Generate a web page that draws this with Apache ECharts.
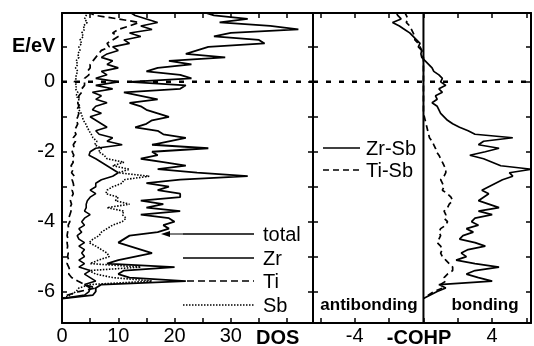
<!DOCTYPE html>
<html><head><meta charset="utf-8">
<script src="https://cdn.jsdelivr.net/npm/echarts@6/dist/echarts.min.js"></script>
<style>html,body{margin:0;padding:0;background:#fff}#c{width:534px;height:346px}</style>
</head><body><div id="c"></div>
<script>
// Energy grid (eV)
const energy = [2.0,1.9,1.8,1.7,1.6,1.5,1.4,1.3,1.2,1.1,1.0, 0.9,0.8,0.7,0.6,0.5,0.4,0.3,0.2,0.1,0.0,
 -0.1,-0.2,-0.3,-0.4,-0.5,-0.6,-0.7,-0.8,-0.9,-1.0, -1.1,-1.2,-1.3,-1.4,-1.5,-1.6,-1.7,-1.8,-1.9,-2.0,
 -2.1,-2.2,-2.3,-2.4,-2.5,-2.6,-2.7,-2.8,-2.9,-3.0, -3.1,-3.2,-3.3,-3.4,-3.5,-3.6,-3.7,-3.8,-3.9,-4.0,
 -4.1,-4.2,-4.3,-4.4,-4.5,-4.6,-4.7,-4.8,-4.9,-5.0, -5.1,-5.2,-5.3,-5.4,-5.5,-5.6,-5.7,-5.8,-5.9,-6.0,
 -6.1,-6.2];
// DOS curves
const dosTotal = [25,27,33,28,37,42,30,27,35,36,26, 24,22,29,19,23,17,15,21,23,12,
 22,21,11,14,17,12,14,15,17,19, 16,15,13,17,18,22,19,16,26,16,
 17,14,18,22,17,24,33,21,15,19, 17,21,21,14,18,15,21,14,19,20,
 18,19,17,12,11,10,12,14,16,13, 10,8,20,11,10,12,22,7,6,6,
 5.5,0];
const dosZr = [12,13,15,17,14,16,12,14,11,12,9, 10,8,7,9,8,10,7,8,6,10,
 6,9,5.4,7,6,8,6,5.4,7,5, 6,7,8,6,6.6,9,8,10.7,6,5,
 4.8,6,7,8,9,10,9,7,6,6, 5,6,5,4.5,4.3,4.3,4,5,4,3.5,
 4,3,3.5,2.7,3,4,3,4,3.5,4, 3,4,3,5,4,5,6,4,5,4.8,
 4,0];
const dosTi = [4.5,6,10,13.7,12,10,9,10,9,8,8.4, 7,6.5,6,5.5,5,5,4.5,4.8,4,4,
 4,3.5,3.5,3,3,2.8,3,2.6,3,2.8, 2.5,2.8,2.5,2.2,2.5,2,2.4,2,2.2,1.8,
 2.1,1.8,2,1.6,2,1.7,2.2,1.8,2,2.1, 1.8,2,1.7,1.5,1.7,1.4,1.6,1.4,1.2,1.4,
 1.1,1.2,1,0.9,1.1,0.9,1,0.9,1.1,1, 1.2,0.9,1.2,1.4,1.2,1.7,2.8,4,6,3,
 1,0];
const dosSb = [4.5,4.3,4,4.5,3.8,4,3.5,3.8,3.2,3.5,3, 3.2,2.8,3,2.5,2.8,2.4,2.8,2.5,2.5,2.2,
 2.6,2.4,2.8,2.5,3,2.8,3.2,3,3.4,3.6, 3.8,4.2,4.5,4.8,5.2,5.5,6.2,5.8,7,6.5,
 7.5,8,11,9,12,10,15.5,11,10.7,9, 8,7.8,10,9.5,12,8,11,10.7,11.4,10.7,
 9,8,7,6.6,5.5,4.8,6,7,8,8.4, 6.5,5,14,4.8,6,9,16,5,3,2.5,
 1.5,0];
// -COHP curves
const cohpZrSb = [-1.6,-1.5,-1.3,-1.8,-1.4,-1.1,-0.8,-0.6,-0.4,-0.2,-0.3, -0.1,-0.15,-0.1,0.1,0.3,0.5,0.6,0.9,1.1,1.0,
 1.3,0.9,1.1,0.7,0.8,0.5,0.8,0.9,1.0,1.2, 1.4,1.7,2.1,2.6,3.0,5.2,3.5,3.2,4.4,3.6,
 2.7,3.5,4.0,4.5,6.3,5.0,5.2,4.6,4.2,3.8, 3.4,3.8,3.5,3.2,3.8,4.4,3.2,4.0,3.0,2.8,
 3.2,2.5,2.9,2.3,2.1,3.0,3.6,2.6,2.2,2.5, 1.9,3.0,4.4,3.0,2.5,3.2,4.0,0.9,1.3,0.8,
 0.4,0];
const cohpTiSb = [-1.1,-1.0,-0.9,-1.0,-0.8,-0.7,-0.6,-0.5,-0.5,-0.3,-0.2, -0.1,-0.1,0,0,0,0,0,0,0,0,
 0,0,0,0,0,0,0,0,0,0.05, 0.1,0.15,0.2,0.25,0.3,0.35,0.5,0.6,0.7,0.75,
 0.9,1.0,1.1,1.2,1.3,1.3,1.2,1.0,1.1,1.2, 1.1,1.4,1.6,1.7,1.5,1.4,1.2,1.3,1.2,1.4,
 1.3,1.0,0.9,1.0,0.9,0.8,1.0,1.1,1.0,1.1, 1.3,1.5,1.7,1.7,1.4,1.2,1.3,1.0,1.1,0.6,
 0.3,0];
const dosTickLabels = [0,10,20,30];
const cohpTickLabels = [-4,4];
const energyTickLabels = [0,-2,-4,-6];
const fermiEnergy = 0;

const FONT = 'Liberation Sans, Arial, sans-serif';
const pair = arr => arr.map((v,i)=>[v, energy[i]]);
const axLine = {show:true, onZero:false, lineStyle:{color:'#000', width:2}};
const tick = {show:true, inside:true, length:5, lineStyle:{color:'#000', width:1.5}};
const near = (v, list) => list.some(t => Math.abs(v - t) < 1e-6);

const DOS_MAX = 44.6, E_MIN = -6.9, E_MAX = 1.97, C_MIN = -6.43, C_MAX = 6.26;

function xAx(grid, pos, min, max, extra, labels){
  return Object.assign({type:'value', gridIndex:grid, position:pos, min, max,
    axisLine:axLine, axisTick:tick, splitLine:{show:false},
    axisLabel: labels ? {show:true, color:'#000', fontSize:20, fontFamily:FONT, margin:3,
      formatter: v => near(v, labels) ? String(v) : ''} : {show:false}}, extra);
}
function yAx(grid, pos, labels){
  return {type:'value', gridIndex:grid, position:pos, min:E_MIN, max:E_MAX, splitNumber:9,
    axisLine:axLine, axisTick:tick, splitLine:{show:false},
    axisLabel: labels ? {show:true, color:'#000', fontSize:20, fontFamily:FONT, margin:7,
      formatter: v => near(v, labels) ? String(Math.round(v)) : ''} : {show:false}};
}
function lineSeries(xi, yi, data, type, width){
  return {type:'line', xAxisIndex:xi, yAxisIndex:yi, data, symbol:'none', showSymbol:false,
    lineStyle:{color:'#000', width:width||1.4, type}, silent:true, z:3};
}

const txt = (text, x, y, size, bold, align) => ({type:'text', z:10, style:{text, x, y,
  font:(bold?'bold ':'')+size+'px '+FONT, fill:'#000', textAlign:align||'left', textVerticalAlign:'middle'}});
const ln = (x1,y1,x2,y2,dash,w) => ({type:'line', z:10, shape:{x1,y1,x2,y2},
  style:{stroke:'#000', lineWidth:w||1.5, lineDash:dash||null}});

const chart = echarts.init(document.getElementById('c'), null, {renderer:'canvas'});
chart.setOption({
  animation:false,
  backgroundColor:'#fff',
  grid:[{left:62, top:13, width:251, height:311},{left:313, top:13, width:219, height:311}],
  xAxis:[
    xAx(0,'bottom',0,DOS_MAX,{interval:5}, dosTickLabels),
    xAx(0,'top',0,DOS_MAX,{interval:5}, null),
    xAx(1,'bottom',C_MIN,C_MAX,{splitNumber:6}, cohpTickLabels),
    xAx(1,'top',C_MIN,C_MAX,{splitNumber:6}, null)
  ],
  yAxis:[yAx(0,'left',energyTickLabels), yAx(0,'right',null), yAx(1,'left',null), yAx(1,'right',null)],
  series:[
    lineSeries(0,0,[[0,fermiEnergy],[DOS_MAX,fermiEnergy]],[5,8],2.5),
    lineSeries(2,2,[[C_MIN,fermiEnergy],[C_MAX,fermiEnergy]],[5,8],2.5),
    lineSeries(2,2,[[0,E_MIN],[0,E_MAX]],'solid',2),
    lineSeries(0,0,pair(dosTotal),'solid',1.8),
    lineSeries(0,0,pair(dosZr),'solid',1.6),
    lineSeries(0,0,pair(dosTi),[7,4],1.7),
    lineSeries(0,0,pair(dosSb),[1.5,1.5],1.6),
    lineSeries(2,2,pair(cohpZrSb),'solid',1.7),
    lineSeries(2,2,pair(cohpTiSb),[6,4],1.7)
  ],
  graphic:[
    txt('E/eV', 12, 46, 20, true),
    txt('DOS', 256, 338, 20, true),
    txt('-COHP', 419, 338, 20, true, 'center'),
    txt('antibonding', 369, 305, 17, true, 'center'),
    txt('bonding', 485, 305, 17, true, 'center'),
    ln(183,234,254,234),
    ln(167,234,183,234,null,1),
    {type:'polygon', z:10, shape:{points:[[161,234],[170,231],[170,237]]}, style:{fill:'#000'}},
    txt('total', 263, 235, 20, false),
    ln(183,258,254,258),
    txt('Zr', 263, 259, 20, false),
    ln(187,281,254,281,[7,4]),
    txt('Ti', 263, 282, 20, false),
    ln(183,305,254,305,[1.5,1.5]),
    txt('Sb', 263, 306, 20, false),
    ln(323,148,360,148),
    txt('Zr-Sb', 366, 149, 20, false),
    ln(323,170,360,170,[6,4]),
    txt('Ti-Sb', 366, 171, 20, false)
  ]
});
</script></body></html>
